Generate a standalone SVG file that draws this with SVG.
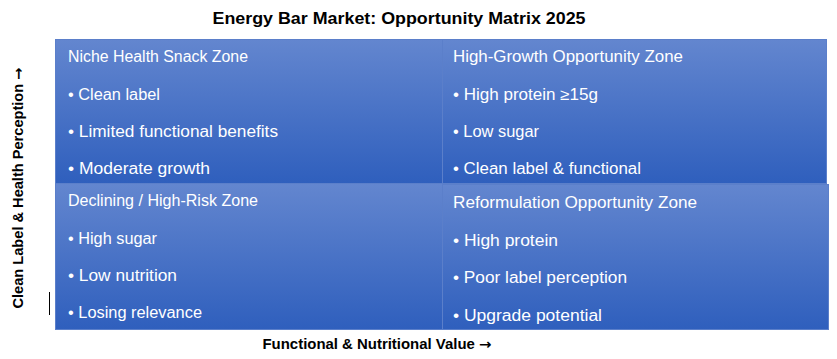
<svg xmlns="http://www.w3.org/2000/svg" width="837" height="359" viewBox="0 0 837 359">
<defs>
<linearGradient id="g" x1="0" y1="0" x2="0" y2="1">
<stop offset="0" stop-color="#6386cf"/>
<stop offset="1" stop-color="#2f5fbd"/>
</linearGradient>
<style>
.q{fill:url(#g);stroke:#5b7fca;stroke-width:1}
.t{font-family:"Liberation Sans",Arial,sans-serif;font-size:16px;fill:#ffffff}
.b{font-family:"Liberation Sans",Arial,sans-serif;font-weight:bold;fill:#000000}
.ar{font-family:"DejaVu Sans",sans-serif}
</style>
</defs>
<rect width="837" height="359" fill="#ffffff"/>
<text class="b" x="399" y="24" font-size="17" text-anchor="middle" textLength="373" lengthAdjust="spacingAndGlyphs">Energy Bar Market: Opportunity Matrix 2025</text>
<g id="q-niche">
<rect class="q" x="55.5" y="39.5" width="387" height="144"/>
<text class="t" x="68" y="62" textLength="180" lengthAdjust="spacingAndGlyphs">Niche Health Snack Zone</text>
<text class="t" x="68" y="100" textLength="92" lengthAdjust="spacingAndGlyphs">• Clean label</text>
<text class="t" x="68" y="137" textLength="210" lengthAdjust="spacingAndGlyphs">• Limited functional benefits</text>
<text class="t" x="68" y="174" textLength="142" lengthAdjust="spacingAndGlyphs">• Moderate growth</text>
</g>
<g id="q-growth">
<rect class="q" x="442.5" y="39.5" width="384" height="144"/>
<text class="t" x="453" y="62" textLength="230" lengthAdjust="spacingAndGlyphs">High-Growth Opportunity Zone</text>
<text class="t" x="453" y="100" textLength="145" lengthAdjust="spacingAndGlyphs">• High protein ≥15g</text>
<text class="t" x="453" y="137" textLength="86" lengthAdjust="spacingAndGlyphs">• Low sugar</text>
<text class="t" x="453" y="174" textLength="188" lengthAdjust="spacingAndGlyphs">• Clean label &amp; functional</text>
</g>
<g id="q-declining">
<rect class="q" x="55.5" y="183.5" width="387" height="146"/>
<text class="t" x="68" y="206" textLength="190" lengthAdjust="spacingAndGlyphs">Declining / High-Risk Zone</text>
<text class="t" x="68" y="244" textLength="89" lengthAdjust="spacingAndGlyphs">• High sugar</text>
<text class="t" x="68" y="281" textLength="109" lengthAdjust="spacingAndGlyphs">• Low nutrition</text>
<text class="t" x="68" y="318" textLength="134" lengthAdjust="spacingAndGlyphs">• Losing relevance</text>
</g>
<g id="q-reform">
<rect class="q" x="442.5" y="184.5" width="386" height="145"/>
<text class="t" x="453" y="208" textLength="244" lengthAdjust="spacingAndGlyphs">Reformulation Opportunity Zone</text>
<text class="t" x="453" y="246" textLength="105" lengthAdjust="spacingAndGlyphs">• High protein</text>
<text class="t" x="453" y="283" textLength="174" lengthAdjust="spacingAndGlyphs">• Poor label perception</text>
<text class="t" x="453" y="321" textLength="149" lengthAdjust="spacingAndGlyphs">• Upgrade potential</text>
</g>
<g id="axes">
<text class="b" x="377" y="349" font-size="14" text-anchor="middle" textLength="229" lengthAdjust="spacingAndGlyphs">Functional &amp; Nutritional Value <tspan class="ar">→</tspan></text>
<text class="b" transform="translate(23,188) rotate(-90)" x="0" y="0" font-size="14" text-anchor="middle" textLength="241" lengthAdjust="spacingAndGlyphs">Clean Label &amp; Health Perception <tspan class="ar">→</tspan></text>
<line x1="49.5" y1="292" x2="49.5" y2="315" stroke="#000000" stroke-width="1"/>
</g>
</svg>
